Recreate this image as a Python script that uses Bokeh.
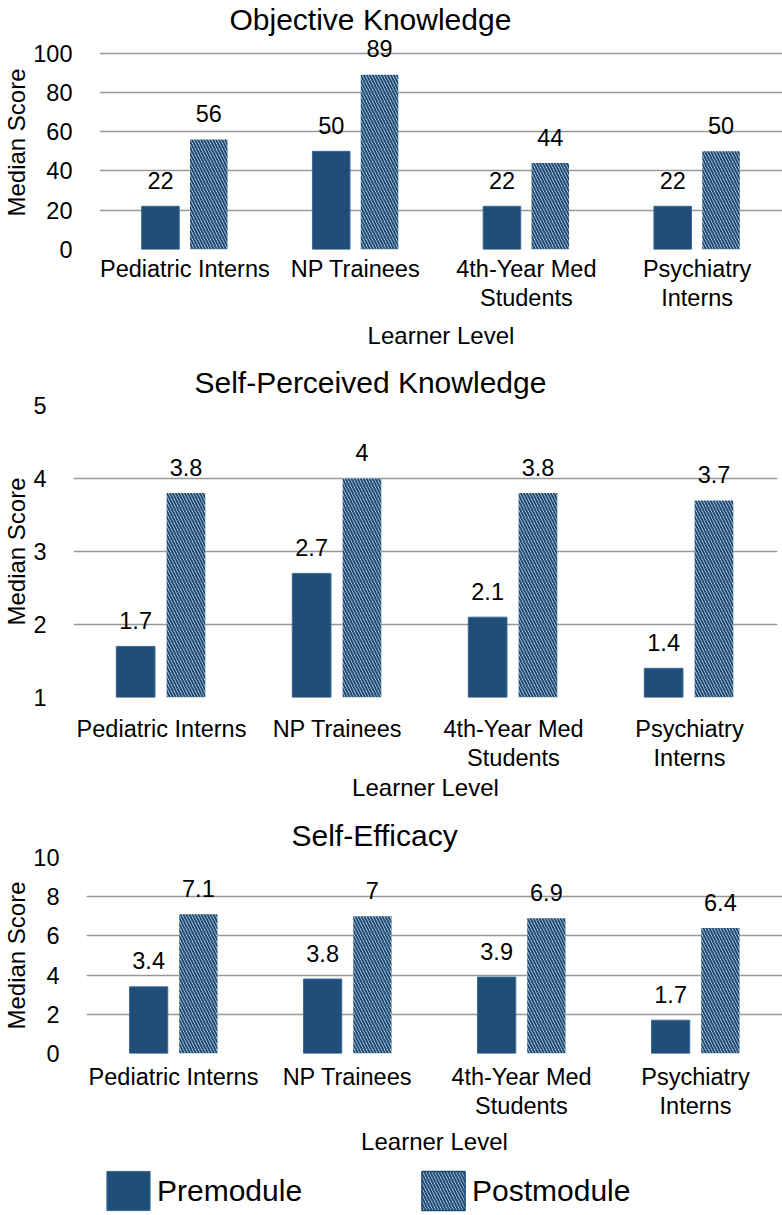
from bokeh.plotting import figure
from bokeh.layouts import column
from bokeh.models import (ColumnDataSource, FactorRange, Range1d, FixedTicker,
                          LabelSet, Legend, LegendItem)
from bokeh.transform import dodge
from bokeh.core.properties import value
from bokeh.embed import file_html
from bokeh.resources import INLINE

# ---------------- data ----------------
categories = ["Pediatric Interns", "NP Trainees", "4th-Year Med Students", "Psychiatry Interns"]
category_labels = ["Pediatric Interns", "NP Trainees", "4th-Year Med\nStudents", "Psychiatry\nInterns"]
series_names = ["Premodule", "Postmodule"]

objective_pre = [22, 50, 22, 22]
objective_post = [56, 89, 44, 50]
objective_ticks = [0, 20, 40, 60, 80, 100]

perceived_pre = [1.7, 2.7, 2.1, 1.4]
perceived_post = [3.8, 4, 3.8, 3.7]
perceived_ticks = [1, 2, 3, 4, 5]

efficacy_pre = [3.4, 3.8, 3.9, 1.7]
efficacy_post = [7.1, 7, 6.9, 6.4]
efficacy_ticks = [0, 2, 4, 6, 8, 10]

panel_titles = ["Objective Knowledge", "Self-Perceived Knowledge", "Self-Efficacy"]
x_title = "Learner Level"
y_title = "Median Score"

# ---------------- style ----------------
FONT = "Liberation Sans"
PRE = "#1f4e79"
PRE_EDGE = "#3a6a98"
GRID = "#989898"
TXT = "#000000"
PRE_STYLE = dict(fill_color=PRE, line_color=PRE_EDGE, line_width=1)
HATCH = dict(fill_color="white", hatch_pattern="left_diagonal_line",
             hatch_color=PRE, hatch_weight=2.2, hatch_scale=6)

# two-line tick labels: inner factor = first line, outer group = second line
factors = []
for i, lab in enumerate(category_labels):
    lines = lab.split("\n")
    factors.append((lines[1] if len(lines) > 1 else " " * (i + 1), lines[0]))


def no_align(p):
    if "frame_align" in p.properties():
        p.frame_align = False


def make_panel(title, pre, post, ticks, y_end, h, bt, bb, bl, br,
               t_off, t_stand, xtick, xlabstand, ystand, d_pre, d_post):
    ymin = ticks[0]
    p = figure(x_range=FactorRange(factors=factors, factor_padding=0, group_padding=0,
                                   subgroup_padding=0, range_padding=0),
               y_range=Range1d(ymin, y_end), title=title,
               width=782, height=h, output_backend="svg", toolbar_location=None,
               min_border_top=bt, min_border_bottom=bb, min_border_left=bl,
               min_border_right=br)
    no_align(p)
    p.outline_line_color = None
    p.xgrid.grid_line_color = None
    p.ygrid.grid_line_color = GRID
    p.ygrid.grid_line_width = 1.5
    p.yaxis.ticker = FixedTicker(ticks=ticks)

    p.title.align = "left"
    p.title.offset = t_off
    p.title.standoff = t_stand
    p.title.text_font = FONT
    p.title.text_font_size = "30px"
    p.title.text_font_style = "normal"
    p.title.text_color = TXT

    src = ColumnDataSource(dict(
        cat=factors, pre=pre, post=post,
        pre_txt=[f"{v:g}" for v in pre], post_txt=[f"{v:g}" for v in post]))

    p.vbar(x=dodge("cat", d_pre, range=p.x_range), top="pre", bottom=ymin, width=0.22,
           source=src, **PRE_STYLE)
    p.vbar(x=dodge("cat", d_post, range=p.x_range), top="post", bottom=ymin,
           width=0.22, source=src, line_color=None, **HATCH)

    for col, d in (("pre", d_pre), ("post", d_post)):
        p.add_layout(LabelSet(x=dodge("cat", d, range=p.x_range), y=col, text=col + "_txt",
                              source=src, y_offset=26, text_align="center",
                              text_baseline="middle", text_font=value(FONT),
                              text_font_size=value("23.5px"), text_color=TXT))

    for ax in (p.xaxis, p.yaxis):
        ax.axis_line_color = None
        ax.minor_tick_line_color = None
        ax.major_label_text_font = FONT
        ax.major_label_text_font_size = "23.5px"
        ax.major_label_text_color = TXT
        ax.axis_label_text_font = FONT
        ax.axis_label_text_font_size = "24px"
        ax.axis_label_text_font_style = "normal"
        ax.axis_label_text_color = TXT

    xa = p.xaxis[0]
    xa.major_tick_line_color = "white"
    xa.major_tick_in = 0
    xa.major_tick_out = xtick
    xa.major_label_standoff = 0
    xa.group_text_font = FONT
    xa.group_text_font_size = "23.5px"
    xa.group_text_font_style = "normal"
    xa.group_text_color = TXT
    xa.separator_line_color = None
    xa.axis_label = x_title
    xa.axis_label_standoff = xlabstand

    ya = p.yaxis[0]
    ya.major_tick_line_color = None
    ya.axis_label = y_title
    ya.major_label_standoff = ystand
    ya.axis_label_standoff = 0
    return p, src


p1, _ = make_panel(panel_titles[0], objective_pre, objective_post, objective_ticks, 109,
                   356, 34, 107, 98, 0, 130, 0, 6, 8, 21, -0.143, 0.140)
p2, _ = make_panel(panel_titles[1], perceived_pre, perceived_post, perceived_ticks, 5,
                   454, 48, 113, 72, 5, 121, 14, 18, 0, 21, -0.147, 0.139)
p3, src3 = make_panel(panel_titles[2], efficacy_pre, efficacy_post, efficacy_ticks, 10,
                      356, 46, 113, 85, 0, 205, 12, 10, 6, 21, -0.143, 0.143)

# legend strip: hidden proxy renderers (same data) carry the legend swatches
p4 = figure(width=782, height=49,
            x_range=FactorRange(factors=factors, factor_padding=0, group_padding=0,
                                subgroup_padding=0, range_padding=0),
            y_range=Range1d(0, 10), output_backend="svg", toolbar_location=None,
            min_border=0, x_axis_location=None, y_axis_location=None)
no_align(p4)
p4.outline_line_color = None
p4.grid.visible = False
lg_pre = p4.vbar(x="cat", top="pre", width=0.22, source=src3, visible=False, **PRE_STYLE)
lg_post = p4.vbar(x="cat", top="post", width=0.22, source=src3, visible=False,
                  line_color=PRE, line_width=1.5, **HATCH)
legend = Legend(items=[LegendItem(label=series_names[0], renderers=[lg_pre]),
                       LegendItem(label=series_names[1], renderers=[lg_post])],
                orientation="horizontal", location=(101, 0),
                glyph_width=54, glyph_height=49, label_standoff=2,
                label_width=200, label_height=49, spacing=59, padding=0, margin=0,
                border_line_color=None, background_fill_alpha=0,
                inactive_fill_alpha=0,
                label_text_font=FONT, label_text_font_size="30px", label_text_color=TXT)
p4.add_layout(legend)

layout = column(p1, p2, p3, p4, spacing=0)
open("out.html", "w").write(file_html(layout, INLINE))
